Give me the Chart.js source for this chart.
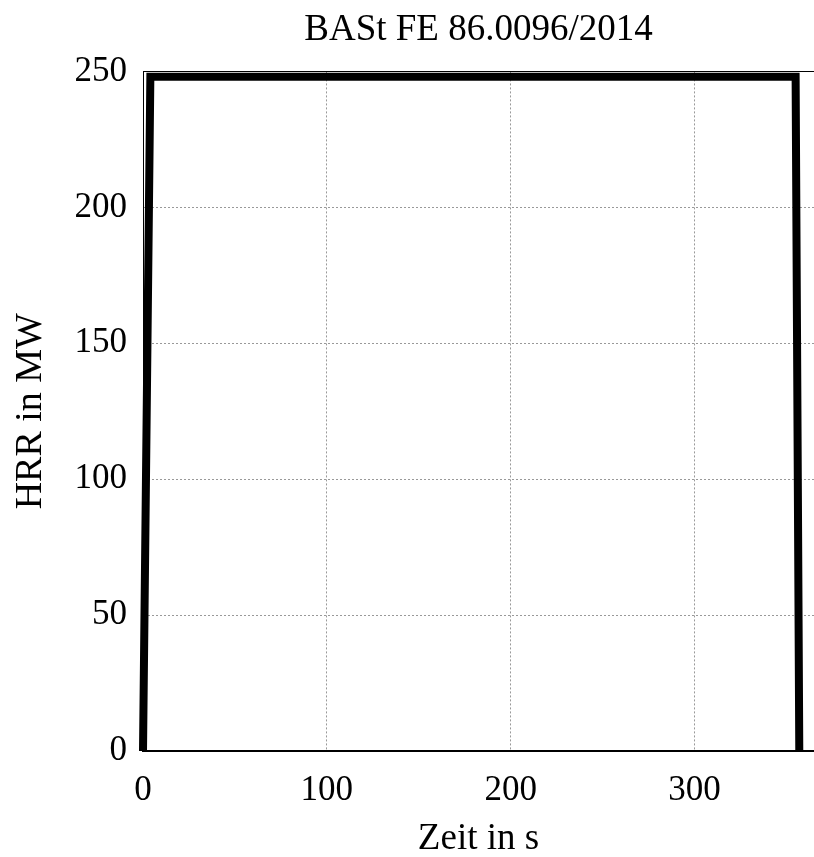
<!DOCTYPE html>
<html><head><meta charset="utf-8">
<script src="https://cdn.jsdelivr.net/npm/chart.js@4.4.1/dist/chart.umd.min.js"></script>
<style>html,body{margin:0;padding:0;background:#fff}#wrap{width:814px;height:857px}</style>
</head><body><div id="wrap"><canvas id="c"></canvas></div>
<script>
const timeValues = [0, 4, 355, 357];
const hrrValues = [0, 248, 248, 0];
const yTicks = [0, 50, 100, 150, 200, 250];
const xTicks = [0, 100, 200, 300];
const titleText = 'BASt FE 86.0096/2014';
const xTitle = 'Zeit in s';
const yTitle = 'HRR in MW';

const FONT = 'Liberation Serif';
const pts = timeValues.map((t, i) => ({x: t, y: hrrValues[i]}));
new Chart(document.getElementById('c'), {
  type: 'line',
  data: { datasets: [{ data: pts, borderColor: '#000', borderWidth: 8, pointRadius: 0, tension: 0, fill: false, borderJoinStyle: 'miter', clip: false }] },
  options: {
    responsive: true, maintainAspectRatio: false, animation: false,
    layout: { padding: { left: 0, right: 0, top: 0, bottom: -4 } },
    plugins: {
      legend: { display: false }, tooltip: { enabled: false },
      title: { display: true, fullSize: false, text: titleText, color: '#000', font: { family: FONT, size: 37, weight: 'normal' }, padding: { top: 8, bottom: 19 }, align: 'center' }
    },
    scales: {
      x: {
        type: 'linear', min: 0, max: 365,
        afterBuildTicks: s => { s.ticks = xTicks.map(v => ({value: v})); },
        afterFit: s => { s.height = 110; },
        ticks: { color: '#000', font: { family: FONT, size: 35 }, padding: 19, maxRotation: 0 },
        grid: { color: '#999', lineWidth: 1, drawTicks: false },
        border: { display: true, color: '#000', width: 2, dash: [2, 2] },
        title: { display: true, text: xTitle, color: '#000', font: { family: FONT, size: 37 }, padding: { top: 0, bottom: 0 } }
      },
      xTop: {
        type: 'linear', position: 'top', min: 0, max: 365, display: true,
        afterFit: s => { s.height = 0; },
        ticks: { display: false }, grid: { display: false, drawTicks: false },
        border: { display: true, color: '#000', width: 1 }
      },
      y: {
        min: 0, max: 250,
        afterBuildTicks: s => { s.ticks = yTicks.map(v => ({value: v})); },
        afterFit: s => { s.width = 143; },
        ticks: { color: '#000', font: { family: FONT, size: 35 }, padding: 16 },
        grid: { color: '#999', lineWidth: 1, drawTicks: false },
        border: { display: true, color: '#000', width: 1, dash: [2, 2] },
        title: { display: true, text: yTitle, color: '#000', font: { family: FONT, size: 38 }, padding: { top: 8, bottom: 0 } }
      }
    }
  }
});
</script></body></html>
